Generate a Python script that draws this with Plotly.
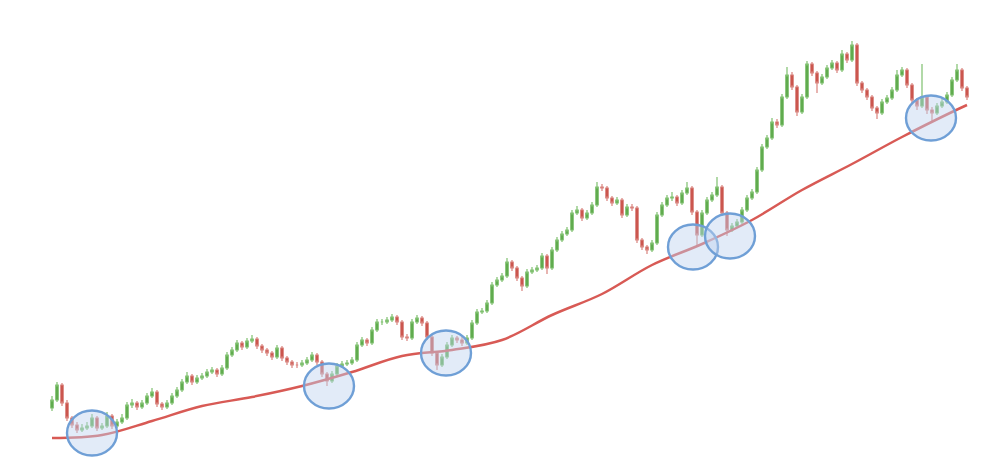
import plotly.graph_objects as go

# ---- data (price units, candle index = trading day) ----
opens = [66,74,89,71,56,49,44,46,48,56,46,48,58,48,52,56,69,71,67,71,78,82,70,67,71,78,84,92,98,92,96,98,102,104,100,106,119,124,131,127,133,135,128,124,121,117,126,116,112,109,109,111,114,119,112,100,93,100,108,110,111,114,129,134,131,144,152,152,154,157,152,137,136,152,156,151,137,121,109,117,129,136,134,131,136,151,162,163,171,189,194,198,212,206,196,188,202,204,206,218,206,224,234,240,244,261,264,256,261,269,287,286,276,271,274,259,267,266,234,227,224,231,259,269,276,277,271,281,286,262,239,261,274,279,287,261,244,248,252,264,276,282,304,327,336,352,349,377,399,387,362,377,410,401,391,397,406,411,404,420,414,429,391,384,377,366,361,372,376,384,399,404,389,374,368,377,364,361,368,372,379,394,404,386]
closes = [74,89,71,56,49,44,46,48,56,46,48,58,48,52,56,69,71,67,71,78,82,70,67,71,78,84,92,98,92,96,98,102,104,100,106,119,124,131,127,133,135,128,124,121,117,126,116,112,109,109,111,114,119,112,100,93,100,108,110,111,114,129,134,131,144,152,152,154,157,152,137,136,152,156,151,137,121,109,117,129,136,134,131,136,151,162,163,171,189,194,198,212,206,196,188,202,204,206,218,206,224,234,240,244,261,264,256,261,269,287,286,276,271,274,259,267,266,234,227,224,231,259,269,276,277,271,281,286,262,239,261,274,279,287,261,244,248,252,264,276,282,304,327,336,352,349,377,399,387,362,377,410,401,391,397,406,411,404,420,414,429,391,384,377,366,361,372,376,384,399,404,389,374,368,377,364,361,368,372,379,394,404,386,377]
highs = [78,92,91,74,58,52,50,52,60,58,51,62,60,55,60,72,75,73,74,81,86,84,72,74,81,87,95,102,100,99,101,105,107,106,109,122,127,134,133,136,139,137,130,126,123,129,128,118,114,112,114,117,122,121,114,102,103,111,113,114,117,132,137,136,147,155,155,157,160,159,154,140,155,159,158,153,139,123,120,132,139,138,137,139,154,165,166,174,192,197,201,216,214,208,198,205,207,209,221,220,227,237,243,247,264,268,266,264,272,292,290,288,278,277,276,270,270,268,236,229,234,262,272,279,282,279,284,292,288,264,264,277,282,297,289,263,251,255,267,279,285,307,330,339,356,355,380,407,402,389,380,413,412,403,400,409,414,413,424,422,433,431,393,386,379,368,375,379,387,404,407,406,391,376,410,379,367,371,375,382,397,410,406,388]
lows = [63,72,68,53,46,41,42,44,46,43,44,46,45,46,50,54,66,64,65,69,76,67,64,65,69,76,82,90,89,90,94,96,100,97,98,104,117,122,124,125,131,125,121,118,114,115,113,109,106,106,107,109,112,109,97,88,91,98,106,108,109,112,127,128,129,142,149,150,152,149,134,133,134,150,148,134,118,104,107,115,127,131,128,129,134,149,160,161,169,187,192,196,203,193,183,186,200,202,204,200,204,222,232,238,242,259,253,254,259,267,283,273,268,269,256,257,263,231,224,220,222,229,257,267,273,268,269,279,259,227,237,259,272,277,258,238,242,246,250,262,274,280,302,325,334,346,347,375,384,358,360,375,398,381,389,395,404,401,402,411,412,388,381,374,363,355,359,370,374,382,397,386,371,364,366,360,352,359,366,370,377,392,383,374]

ma_days = [0,10,20,30,40,50,60,70,80,90,100,110,120,130,140,150,160,170,180,183]
ma_vals = [36,39,53,68,77,88,102,118,124,134,159,180,209,230,254,284,310,337,362,369]

# touch points of price on the moving average (day, price)
touch_days = [8, 55.4, 78.8, 128.2, 135.6, 175.8]
touch_prices = [41, 88, 121, 227, 238, 356]

days = list(range(len(closes)))
assert len(opens) == len(closes) == len(highs) == len(lows)

fig = go.Figure()
fig.add_trace(go.Candlestick(
    x=days, open=opens, high=highs, low=lows, close=closes,
    increasing=dict(line=dict(color="#7fc06f", width=1.2), fillcolor="#4f9e3c"),
    decreasing=dict(line=dict(color="#d9837d", width=1.2), fillcolor="#c23b33"),
    whiskerwidth=0, showlegend=False, hoverinfo="skip",
))
fig.add_trace(go.Scatter(
    x=ma_days, y=ma_vals, mode="lines",
    line=dict(color="#d85a55", width=2.5, shape="spline", smoothing=1.0),
    showlegend=False, hoverinfo="skip",
))

RX, RY = 5.0, 22.5
for d, p in zip(touch_days, touch_prices):
    fig.add_shape(type="circle", xref="x", yref="y",
                  x0=d - RX, x1=d + RX, y0=p - RY, y1=p + RY,
                  line=dict(color="#6f9fd6", width=2.4),
                  fillcolor="rgba(190,210,240,0.45)", layer="above")

fig.update_layout(
    width=990, height=474,
    margin=dict(l=0, r=0, t=0, b=0),
    paper_bgcolor="white", plot_bgcolor="white",
    xaxis=dict(range=[-8.8, 189.2], visible=False, rangeslider=dict(visible=False), fixedrange=True),
    yaxis=dict(range=[-8, 466], visible=False, fixedrange=True),
)
fig.write_html("out.html")
